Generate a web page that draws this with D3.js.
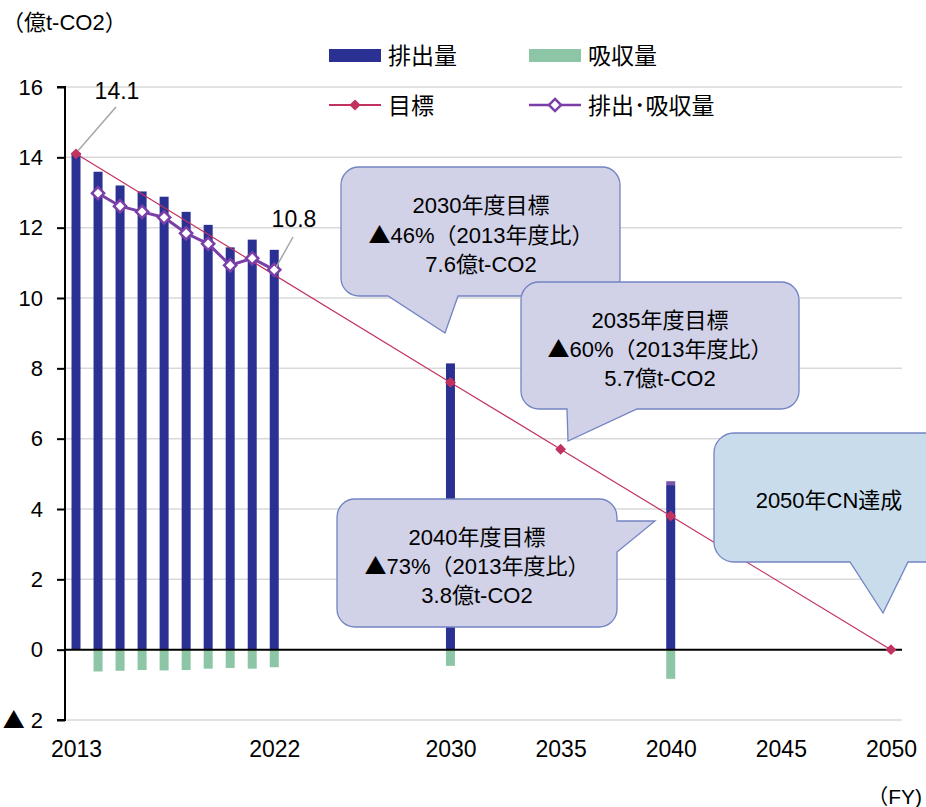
<!DOCTYPE html>
<html lang="ja">
<head>
<meta charset="utf-8">
<script src="https://cdn.jsdelivr.net/npm/d3@7"></script>
<style>
  html, body { margin: 0; padding: 0; background: #fff; }
  svg { display: block; }
  text { font-family: "Liberation Sans", Arial, "Noto Sans CJK JP", sans-serif; fill: #000; }
  .cjk { font-family: "Noto Sans CJK JP", sans-serif; }
</style>
</head>
<body>
<svg id="chart" width="926" height="807"></svg>
<script>
// Emissions / removals by fiscal year (億t-CO2)
const years      = [2013, 2014, 2015, 2016, 2017, 2018, 2019, 2020, 2021, 2022, 2030, 2040];
const emissions  = [14.1, 13.59, 13.2, 13.03, 12.88, 12.45, 12.08, 11.44, 11.66, 11.37, 8.14, 4.68];
const removals   = [0, -0.62, -0.60, -0.58, -0.59, -0.58, -0.54, -0.52, -0.54, -0.50, -0.46, -0.83];
const otherGas   = [0, 0, 0, 0, 0, 0, 0, 0, 0, 0, 0, 0.11];

// Net (emissions minus removals)
const netYears   = [2014, 2015, 2016, 2017, 2018, 2019, 2020, 2021, 2022];
const netValues  = [12.98, 12.61, 12.45, 12.29, 11.84, 11.54, 10.93, 11.13, 10.8];

// Reduction pathway targets
const targetYears  = [2013, 2030, 2035, 2040, 2050];
const targetValues = [14.1, 7.6, 5.7, 3.8, 0];
const targetCuts   = [null, 46, 60, 73, 100];

// Axis ticks
const yTicks = [-2, 0, 2, 4, 6, 8, 10, 12, 14, 16];
const xTicks = [2013, 2022, 2030, 2035, 2040, 2045, 2050];

const C = {
  emis: "#2b3193",
  rem: "#8cc6a6",
  other: "#7a55a8",
  target: "#c2325e",
  net: "#7b3fa8",
  grid: "#d9d9d9",
  boxFill: "#d1d1e7",
  boxStroke: "#7384c4",
  cnFill: "#c9dcec"
};

const svg = d3.select("#chart");
const x = d3.scaleLinear().domain([2012.5, 2050.5]).range([65, 902]);
const y = d3.scaleLinear().domain([-2, 16]).range([720, 87]);
const barW = 9;

// Writes a string into a text node, giving the ▲ glyph the CJK face
function richText(sel, str) {
  sel.text(null);
  str.split(/(▲)/).filter(s => s.length).forEach(s => {
    const t = sel.append("tspan").text(s);
    if (s === "▲") t.attr("class", "cjk");
  });
}

// Grid lines
svg.append("g").selectAll("line")
  .data(yTicks.filter(d => d !== 0))
  .join("line")
  .attr("x1", x(2012.5)).attr("x2", x(2050.5))
  .attr("y1", d => y(d)).attr("y2", d => y(d))
  .attr("stroke", C.grid).attr("stroke-width", 1.5);

// Y axis
const yAxis = d3.axisLeft(y).tickValues(yTicks).tickSize(8).tickPadding(14)
  .tickFormat(d => d < 0 ? "▲ " + Math.abs(d) : d);
const gy = svg.append("g").attr("transform", `translate(${x(2012.5)},0)`).call(yAxis);
gy.select(".domain").attr("stroke", "#000").attr("stroke-width", 2)
  .attr("d", `M-8,${y(16)}H0V${y(-2)}H-8`);
gy.selectAll(".tick line").attr("stroke", "#000").attr("stroke-width", 2);
gy.selectAll(".tick text").attr("font-size", 22).attr("fill", "#000")
  .attr("font-family", "\"Liberation Sans\", Arial, \"Noto Sans CJK JP\", sans-serif")
  .each(function () { richText(d3.select(this), d3.select(this).text()); });

// X axis labels
const xAxis = d3.axisBottom(x).tickValues(xTicks).tickSize(0).tickPadding(21).tickFormat(d3.format("d"));
const gx = svg.append("g").attr("transform", `translate(0,${y(-2)})`).call(xAxis);
gx.select(".domain").remove();
gx.selectAll(".tick text").attr("font-size", 23).attr("fill", "#000")
  .attr("font-family", "\"Liberation Sans\", Arial, sans-serif");

// Bars
const bars = years.map((yr, i) => ({ yr, e: emissions[i], r: removals[i], o: otherGas[i] }));
svg.append("g").selectAll("rect").data(bars).join("rect")
  .attr("x", d => x(d.yr) - barW / 2).attr("width", barW)
  .attr("y", d => y(d.e)).attr("height", d => y(0) - y(d.e))
  .attr("fill", C.emis);
svg.append("g").selectAll("rect").data(bars.filter(d => d.o > 0)).join("rect")
  .attr("x", d => x(d.yr) - barW / 2).attr("width", barW)
  .attr("y", d => y(d.e + d.o)).attr("height", d => y(d.e) - y(d.e + d.o))
  .attr("fill", C.other);
svg.append("g").selectAll("rect").data(bars.filter(d => d.r < 0)).join("rect")
  .attr("x", d => x(d.yr) - barW / 2).attr("width", barW)
  .attr("y", y(0)).attr("height", d => y(d.r) - y(0))
  .attr("fill", C.rem);

// Zero line
svg.append("line")
  .attr("x1", x(2012.5)).attr("x2", x(2050.5))
  .attr("y1", y(0)).attr("y2", y(0))
  .attr("stroke", "#000").attr("stroke-width", 2);

// Target line
const tgt = targetYears.map((yr, i) => ({ yr, v: targetValues[i] }));
svg.append("path").datum(tgt)
  .attr("d", d3.line().x(d => x(d.yr)).y(d => y(d.v)))
  .attr("fill", "none").attr("stroke", C.target).attr("stroke-width", 1.2);
const diamond = d3.symbol().type(d3.symbolDiamond2);
svg.append("g").selectAll("path").data(tgt).join("path")
  .attr("transform", d => `translate(${x(d.yr)},${y(d.v)})`)
  .attr("d", diamond.size(75)())
  .attr("fill", C.target);

// Net line
const net = netYears.map((yr, i) => ({ yr, v: netValues[i] }));
svg.append("path").datum(net)
  .attr("d", d3.line().x(d => x(d.yr)).y(d => y(d.v)))
  .attr("fill", "none").attr("stroke", C.net).attr("stroke-width", 3);
svg.append("g").selectAll("path").data(net).join("path")
  .attr("transform", d => `translate(${x(d.yr)},${y(d.v)})`)
  .attr("d", diamond.size(95)())
  .attr("fill", "#fff").attr("stroke", C.net).attr("stroke-width", 2.5);

// Value labels with leader lines
const valueLabels = [
  { yr: targetYears[0], v: targetValues[0], lx: 116, ly: 107, tx: 117, ty: 99 },
  { yr: netYears[netYears.length - 1], v: netValues[netValues.length - 1], lx: 293, ly: 237, tx: 294, ty: 227 }
];
valueLabels.forEach(l => {
  svg.append("line")
    .attr("x1", l.lx).attr("y1", l.ly)
    .attr("x2", x(l.yr) + 2).attr("y2", y(l.v) - 3)
    .attr("stroke", "#a6a6a6").attr("stroke-width", 1.5);
  svg.append("text").attr("x", l.tx).attr("y", l.ty)
    .attr("text-anchor", "middle").attr("font-size", 23)
    .text(d3.format(".1f")(l.v));
});

// Speech-bubble callouts
function bubble(b) {
  const { x0, y0, x1, y1, r, tail } = b;
  let p = `M${x0 + r},${y0}H${x1 - r}A${r},${r} 0 0 1 ${x1},${y0 + r}`;
  if (tail && tail.side === "right") {
    p += `V${tail.a}L${tail.tx},${tail.ty}L${x1},${tail.b}`;
  }
  p += `V${y1 - r}A${r},${r} 0 0 1 ${x1 - r},${y1}`;
  if (tail && tail.side === "bottom") {
    p += `H${tail.b}L${tail.tx},${tail.ty}L${tail.a},${y1}`;
  }
  p += `H${x0 + r}A${r},${r} 0 0 1 ${x0},${y1 - r}V${y0 + r}A${r},${r} 0 0 1 ${x0 + r},${y0}Z`;
  return p;
}

const callouts = [
  { i: 1, x0: 341, y0: 167, x1: 620, y1: 296, r: 18,
    tail: { side: "bottom", a: 388, b: 458, tx: 445, ty: 333 }, cx: 481, ly: [213, 243, 272] },
  { i: 2, x0: 521, y0: 282, x1: 799, y1: 409, r: 18,
    tail: { side: "bottom", a: 567, b: 637, tx: 568, ty: 441 }, cx: 660, ly: [328, 357, 386] },
  { i: 3, x0: 337, y0: 499, x1: 617, y1: 627, r: 18,
    tail: { side: "right", a: 521, b: 552, tx: 655, ty: 521 }, cx: 477, ly: [545, 574, 603] }
];

callouts.forEach(c => {
  svg.append("path").attr("d", bubble(c))
    .attr("fill", C.boxFill).attr("stroke", C.boxStroke).attr("stroke-width", 1.3);
  const lines = [
    `${targetYears[c.i]}年度目標`,
    `▲${targetCuts[c.i]}%（${targetYears[0]}年度比）`,
    `${targetValues[c.i]}億t-CO2`
  ];
  lines.forEach((t, k) => {
    svg.append("text").attr("x", c.cx).attr("y", c.ly[k])
      .attr("text-anchor", "middle").attr("font-size", 22)
      .call(richText, t);
  });
});

// Carbon-neutral callout
const cn = { x0: 714, y0: 433, x1: 950, y1: 562, r: 20,
  tail: { side: "bottom", a: 850, b: 908, tx: 883, ty: 613 } };
svg.append("path").attr("d", bubble(cn))
  .attr("fill", C.cnFill).attr("stroke", C.boxStroke).attr("stroke-width", 1.3);
svg.append("text").attr("x", 829).attr("y", 508)
  .attr("text-anchor", "middle").attr("font-size", 22)
  .text(`${targetYears[4]}年CN達成`);

// Unit labels
svg.append("text").attr("x", 2).attr("y", 30).attr("font-size", 22).text("（億t-CO2）");
svg.append("text").attr("x", 922).attr("y", 804).attr("text-anchor", "end").attr("font-size", 21).text("（FY)");

// Legend
const lg = svg.append("g").attr("font-size", 23);
lg.append("rect").attr("x", 329).attr("y", 49).attr("width", 52).attr("height", 13).attr("fill", C.emis);
lg.append("text").attr("x", 388).attr("y", 64).text("排出量");
lg.append("rect").attr("x", 529).attr("y", 49).attr("width", 52).attr("height", 13).attr("fill", C.rem);
lg.append("text").attr("x", 588).attr("y", 64).text("吸収量");
lg.append("line").attr("x1", 329).attr("x2", 381).attr("y1", 105).attr("y2", 105)
  .attr("stroke", C.target).attr("stroke-width", 2);
lg.append("path").attr("transform", "translate(355,105)").attr("d", diamond.size(80)()).attr("fill", C.target);
lg.append("text").attr("x", 388).attr("y", 114).text("目標");
lg.append("line").attr("x1", 529).attr("x2", 581).attr("y1", 105).attr("y2", 105)
  .attr("stroke", C.net).attr("stroke-width", 2.5);
lg.append("path").attr("transform", "translate(555,105)").attr("d", diamond.size(95)())
  .attr("fill", "#fff").attr("stroke", C.net).attr("stroke-width", 2.5);
lg.append("text").attr("x", 588).attr("y", 114).text("排出･吸収量");
</script>
</body>
</html>
